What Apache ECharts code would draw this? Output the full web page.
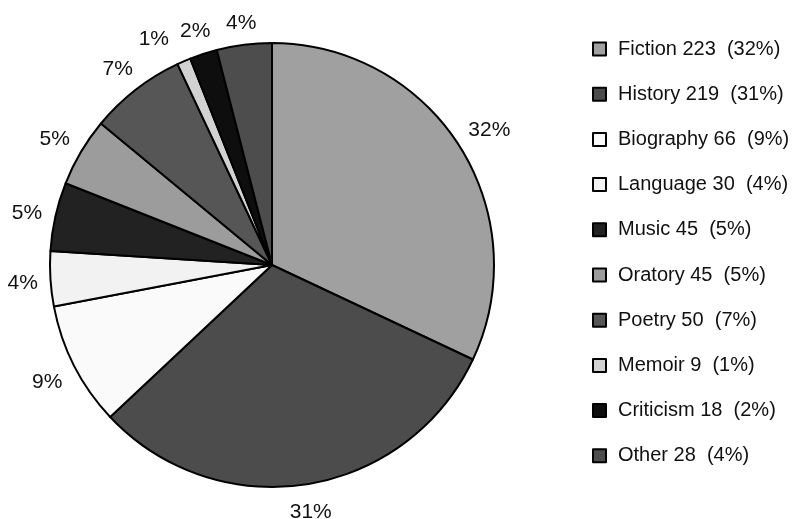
<!DOCTYPE html>
<html>
<head>
<meta charset="utf-8">
<script src="https://cdn.jsdelivr.net/npm/echarts@6/dist/echarts.min.js"></script>
<style>
  html, body { margin: 0; padding: 0; background: #fff; }
  #chart { width: 793px; height: 519px; }
</style>
</head>
<body>
<div id="chart"></div>
<script>
// genres, counts, and the printed percentages (slices follow the percentages)
const genres = ['Fiction', 'History', 'Biography', 'Language', 'Music', 'Oratory', 'Poetry', 'Memoir', 'Criticism', 'Other'];
const counts = [223, 219, 66, 30, 45, 45, 50, 9, 18, 28];
const percents = [32, 31, 9, 4, 5, 5, 7, 1, 2, 4];
const colors = ['#a0a0a0', '#4c4c4c', '#fafafa', '#f2f2f2', '#222222', '#9c9c9c', '#565656', '#d2d2d2', '#0e0e0e', '#4d4d4d'];

const CX = 272, CY = 265, R = 222;
const total = percents.reduce((a, b) => a + b, 0);

// mid angle of each slice, clockwise from 12 o'clock
const midAngles = [];
let acc = 0;
percents.forEach(p => {
  midAngles.push((acc + p / 2) / total * Math.PI * 2);
  acc += p;
});

const chart = echarts.init(document.getElementById('chart'));

const data = genres.map((g, i) => ({
  name: g,
  value: percents[i],
  itemStyle: { color: colors[i] }
}));

chart.setOption({
  animation: false,
  backgroundColor: '#fff',
  textStyle: { fontFamily: 'Liberation Sans, Arial, sans-serif' },
  legend: {
    orient: 'vertical',
    left: 587,
    top: 34,
    itemWidth: 13,
    itemHeight: 13,
    itemGap: 25.2,
    icon: 'rect',
    itemStyle: { borderColor: '#000', borderWidth: 2 },
    textStyle: { fontSize: 20, color: '#111', padding: [0, 0, 0, 7] },
    formatter: name => {
      const i = genres.indexOf(name);
      return name + ' ' + counts[i] + '  (' + percents[i] + '%)';
    },
    data: genres
  },
  series: [{
    type: 'pie',
    center: [CX, CY],
    radius: R,
    startAngle: 90,
    clockwise: true,
    avoidLabelOverlap: false,
    itemStyle: { borderColor: '#000', borderWidth: 2 },
    label: {
      show: true,
      position: 'outside',
      formatter: p => p.value + '%',
      fontSize: 21,
      color: '#111'
    },
    labelLine: { show: false },
    // put each label just outside the rim along the slice's mid angle
    labelLayout: params => {
      const i = params.dataIndex;
      const a = midAngles[i];
      const s = Math.sin(a), c = Math.cos(a);
      const w = params.labelRect.width, h = params.labelRect.height;
      const r = R + 12 + Math.abs(s) * w / 2 + Math.abs(c) * h / 2;
      let x = CX + r * s;
      const y = CY - r * c + 3;
      // tiny Memoir slice: push its label left so it clears the Criticism one
      if (genres[i] === 'Memoir') x -= 19;
      return {
        x: x,
        y: y,
        align: 'center',
        verticalAlign: 'middle',
        hideOverlap: false
      };
    },
    emphasis: { disabled: true },
    data: data
  }]
});
</script>
</body>
</html>
